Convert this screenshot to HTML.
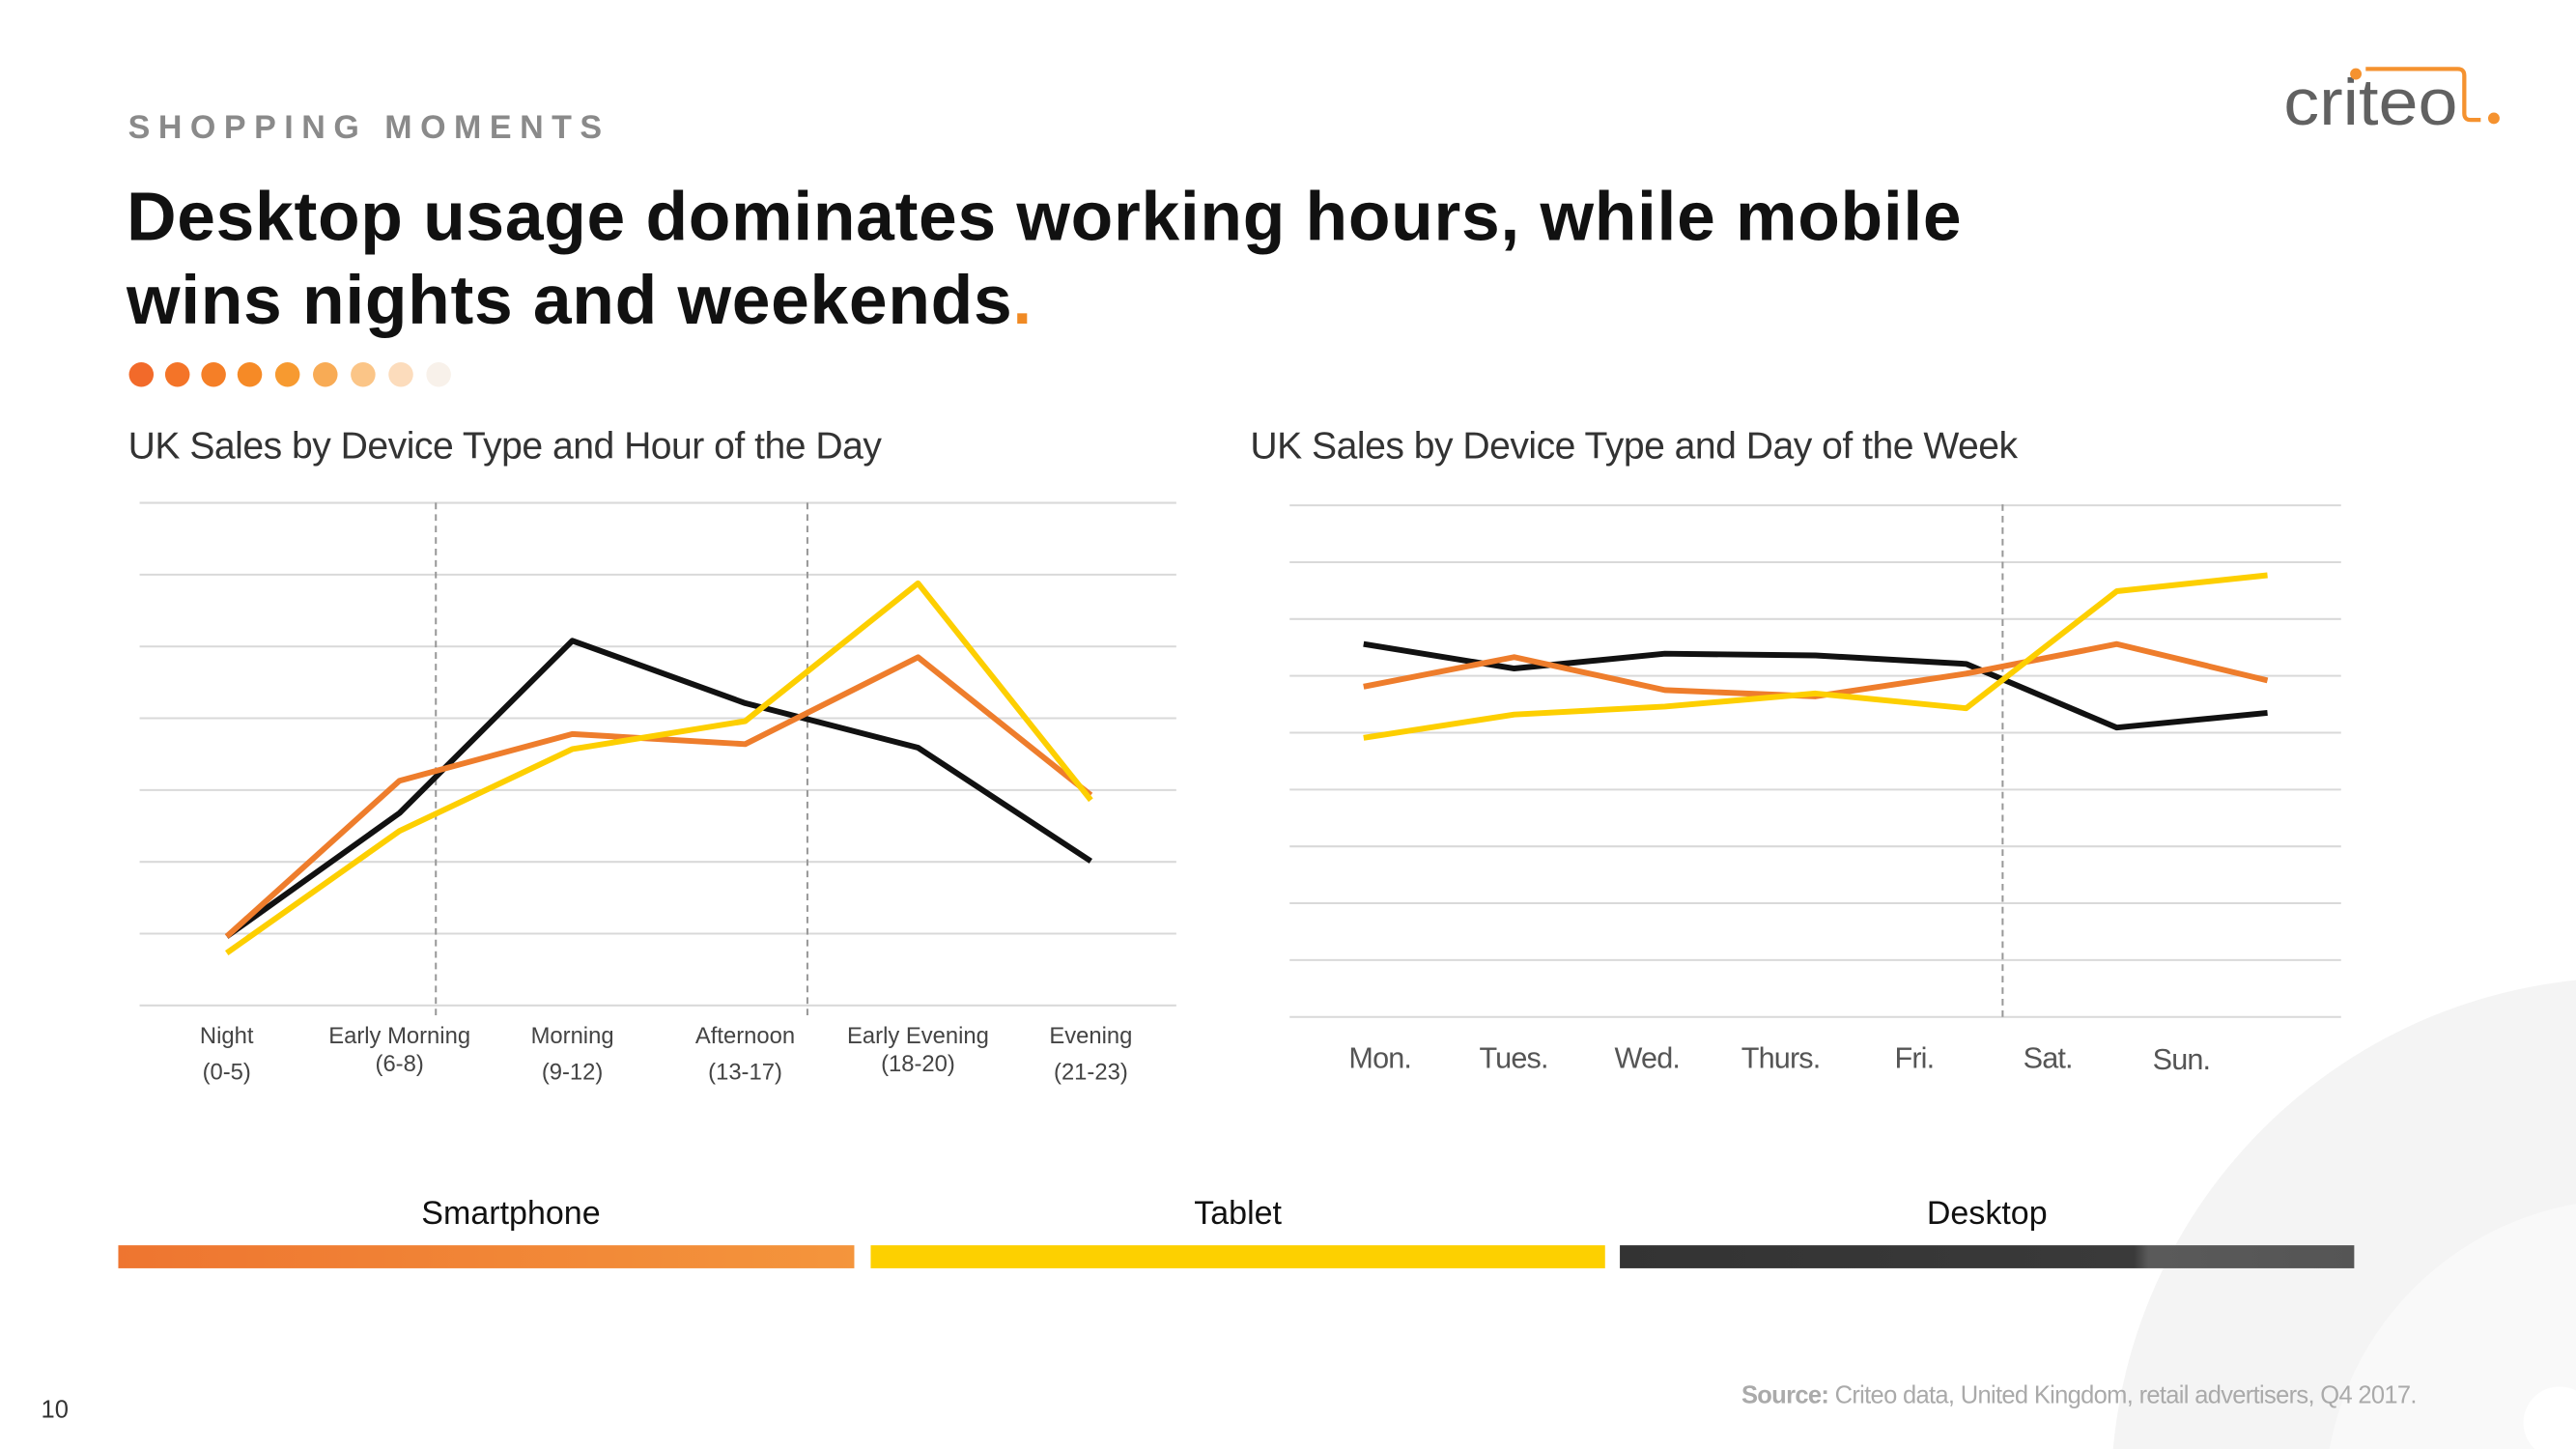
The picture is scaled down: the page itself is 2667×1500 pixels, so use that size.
<!DOCTYPE html>
<html><head><meta charset="utf-8"><style>
html,body{margin:0;padding:0;background:#fff;overflow:hidden;width:2667px;height:1500px}
#root{position:absolute;left:0;top:0;width:1568px;height:882px;overflow:hidden;transform:scale(1.70089,1.70068);transform-origin:0 0;font-family:"Liberation Sans",sans-serif}
.a{position:absolute}
</style></head><body>
<div id="root">
<svg class="a" style="left:0;top:0" width="1568" height="882">
<circle cx="1600" cy="910" r="315" fill="#f4f4f4"/>
<circle cx="1600" cy="915" r="185" fill="#f9f9f9"/>
<circle cx="1558" cy="866" r="22" fill="#fff"/>
</svg>
<div class="a" style="left:78px;top:67px;font-size:20px;letter-spacing:5px;color:#8a8a8a;font-weight:bold">SHOPPING MOMENTS</div>
<div class="a" style="left:77px;top:106px;font-size:42px;line-height:51px;font-weight:bold;color:#111;letter-spacing:0.4px">Desktop usage dominates working hours, while mobile<br>wins nights and weekends<span style="color:#f08a24">.</span></div>
<svg class="a" style="left:0;top:0" width="1568" height="300">
<g>
<circle cx="86" cy="228" r="7.5" fill="#f26a2a"/><circle cx="108" cy="228" r="7.5" fill="#f47428"/><circle cx="130" cy="228" r="7.5" fill="#f57f27"/><circle cx="152" cy="228" r="7.5" fill="#f68a26"/><circle cx="175" cy="228" r="7.5" fill="#f79a30"/><circle cx="198" cy="228" r="7.5" fill="#f8ab55"/><circle cx="221" cy="228" r="7.5" fill="#fbc587"/><circle cx="244" cy="228" r="7.5" fill="#fcdcbc"/><circle cx="267" cy="228" r="7.5" fill="#f8f1ea"/>
</g>
<g>
<text x="1390" y="76" font-size="40" fill="#616161" font-family="Liberation Sans,sans-serif" textLength="106" lengthAdjust="spacingAndGlyphs">criteo</text>
<circle cx="1434" cy="45" r="3.5" fill="#f5922f"/>
<path d="M1440 42 H1496 Q1500 42 1500 46 V69 Q1500 73 1504 73 H1510" stroke="#f5922f" stroke-width="2.5" fill="none"/>
<circle cx="1518" cy="72" r="3.5" fill="#f5922f"/>
</g>
</svg>
<div class="a" style="left:78px;top:258px;font-size:23px;color:#333;letter-spacing:-0.3px">UK Sales by Device Type and Hour of the Day</div>
<div class="a" style="left:761px;top:258px;font-size:23px;color:#333;letter-spacing:-0.3px">UK Sales by Device Type and Day of the Week</div>
<svg id="c1" class="a" style="left:0;top:0" width="1568" height="700"></svg>
<svg id="c2" class="a" style="left:0;top:0" width="1568" height="700"></svg>
<div class="a" style="left:72px;width:478px;top:728px;text-align:center;font-size:20px;color:#111">Smartphone</div>
<div class="a" style="left:530px;width:447px;top:728px;text-align:center;font-size:20px;color:#111">Tablet</div>
<div class="a" style="left:986px;width:447px;top:728px;text-align:center;font-size:20px;color:#111">Desktop</div>
<div class="a" style="left:72px;width:448px;top:758px;height:14px;background:linear-gradient(90deg,#ee7530,#f4953c)"></div>
<div class="a" style="left:530px;width:447px;top:758px;height:14px;background:#fdd000"></div>
<div class="a" style="left:986px;width:447px;top:758px;height:14px;background:linear-gradient(90deg,#333 0%,#3a3a3a 70%,#5a5a5a 72%,#555)"></div>
<div class="a" style="left:1060px;top:841px;font-size:15px;color:#aaa;letter-spacing:-0.4px"><b>Source:</b> Criteo data, United Kingdom, retail advertisers, Q4 2017.</div>
<div class="a" style="left:25px;top:850px;font-size:15px;color:#333">10</div>
</div>
<script>
const hourCats=[["Night","(0-5)"],["Early Morning","(6-8)"],["Morning","(9-12)"],["Afternoon","(13-17)"],["Early Evening","(18-20)"],["Evening","(21-23)"]];
const hourDesktop=[0.96,2.68,5.08,4.21,3.59,2.01];
const hourSmartphone=[0.96,3.13,3.78,3.64,4.85,2.93];
const hourTablet=[0.73,2.43,3.57,3.96,5.88,2.86];
const dayCats=["Mon.","Tues.","Wed.","Thurs.","Fri.","Sat.","Sun."];
const dayDesktop=[6.56,6.13,6.39,6.36,6.21,5.09,5.35];
const daySmartphone=[5.81,6.33,5.75,5.64,6.04,6.56,5.92];
const dayTablet=[4.91,5.32,5.46,5.69,5.43,7.49,7.77];
const NS="http://www.w3.org/2000/svg";
function mk(svg,t,at){const e=document.createElementNS(NS,t);for(const k in at)e.setAttribute(k,at[k]);svg.appendChild(e);return e;}
(function(){
const s=document.getElementById('c1');
const x=i=>138+i*105.2, y=v=>612-v*43.7;
for(let g=0;g<=7;g++){const l=mk(s,'line',{x1:85,x2:716,y1:y(g),y2:y(g),stroke:'#d9d9d9','stroke-width':1.2});

}
[1.21,3.36].forEach(p=>{const l=mk(s,'line',{x1:x(p),x2:x(p),y1:306,y2:620,stroke:'#999','stroke-width':1.2,'stroke-dasharray':'4,3'});

});
hourCats.forEach((c,i)=>{const t=mk(s,'text',{x:x(i),y:635,'text-anchor':'middle','font-size':14,fill:'#444','font-family':'Liberation Sans,sans-serif'});


const off=(i==1||i==4)?0:5;
t.innerHTML='<tspan x="'+x(i)+'" dy="0">'+c[0]+'</tspan><tspan x="'+x(i)+'" dy="'+(17+off)+'">'+c[1]+'</tspan>';});
[[hourDesktop,'#111','series-desktop'],[hourSmartphone,'#ee7d2c','series-smartphone'],[hourTablet,'#fdcf00','series-tablet']].forEach(([d,c,n])=>{
const p=mk(s,'polyline',{points:d.map((v,i)=>x(i)+','+y(v)).join(' '),fill:'none',stroke:c,'stroke-width':3.5,'stroke-linejoin':'round'});

});
})();
(function(){
const s=document.getElementById('c2');
const x=i=>830+i*91.7, y=v=>619-v*34.6, lx=i=>840+i*81.3;
for(let g=0;g<=9;g++){const l=mk(s,'line',{x1:785,x2:1425,y1:y(g),y2:y(g),stroke:'#d9d9d9','stroke-width':1.2});

}
const d=mk(s,'line',{x1:1219,x2:1219,y1:307,y2:620,stroke:'#999','stroke-width':1.2,'stroke-dasharray':'4,3'});


dayCats.forEach((c,i)=>{const t=mk(s,'text',{x:lx(i),y:650+(i==6?1:0),'text-anchor':'middle','font-size':18,fill:'#555','font-family':'Liberation Sans,sans-serif','letter-spacing':'-0.5'});
t.textContent=c;

});
[[dayDesktop,'#111','series-desktop'],[daySmartphone,'#ee7d2c','series-smartphone'],[dayTablet,'#fdcf00','series-tablet']].forEach(([dd,c,n])=>{
const p=mk(s,'polyline',{points:dd.map((v,i)=>x(i)+','+y(v)).join(' '),fill:'none',stroke:c,'stroke-width':3.5,'stroke-linejoin':'round'});

});
})();
</script>
</body></html>
